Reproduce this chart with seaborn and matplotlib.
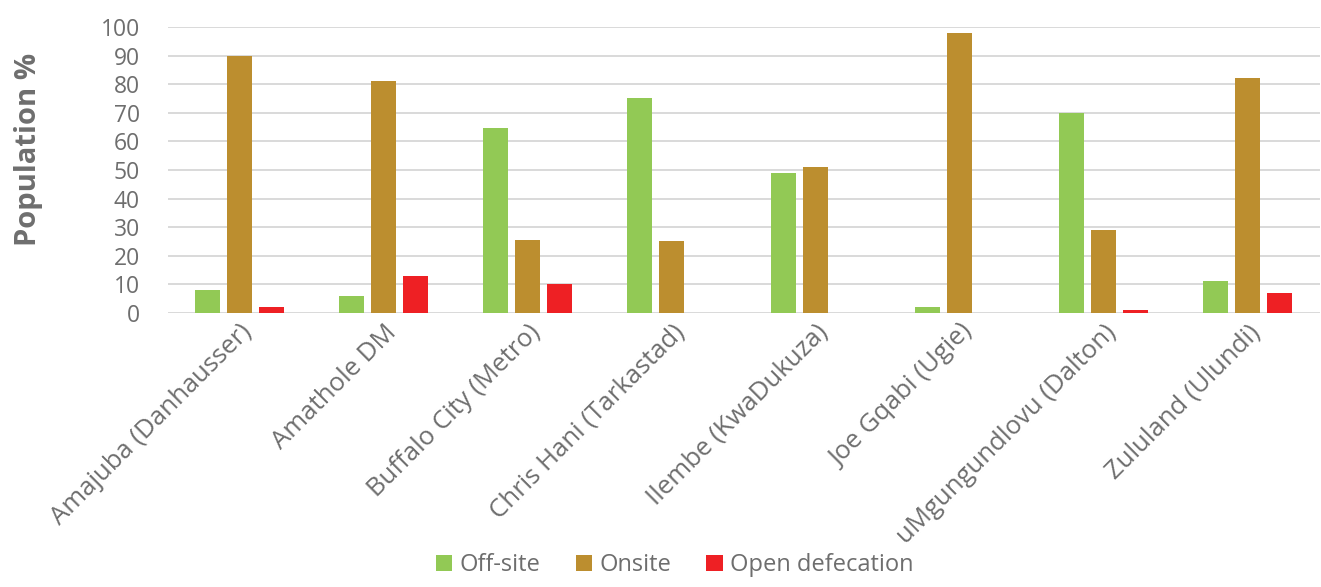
import pandas as pd
import numpy as np
import matplotlib.pyplot as plt
import seaborn as sns

# data
districts = ['Amajuba (Danhausser)', 'Amathole DM', 'Buffalo City (Metro)',
             'Chris Hani (Tarkastad)', 'Ilembe (KwaDukuza)', 'Joe Gqabi (Ugie)',
             'uMgungundlovu (Dalton)', 'Zululand (Ulundi)']
off_site = [8, 6, 64.5, 75, 49, 2, 70, 11]
onsite = [90, 81, 25.5, 25, 51, 98, 29, 82]
open_defecation = [2, 13, 10, 0, 0, 0, 1, 7]

series = ['Off-site', 'Onsite', 'Open defecation']
colours = ['#92C955', '#BC8E2F', '#EE2024']


def main():
    df = pd.DataFrame({'district': districts, 'Off-site': off_site,
                       'Onsite': onsite, 'Open defecation': open_defecation})
    df_long = df.melt(id_vars='district', var_name='tipo', value_name='pct')

    sns.set_style('white')
    plt.rcParams['font.family'] = ['Open Sans', 'DejaVu Sans']

    fig = plt.figure(figsize=(13.21, 5.87), dpi=100)
    ax = fig.add_axes([0.127, 0.467, 0.872, 0.487])

    sns.barplot(data=df_long, x='district', y='pct', hue='tipo', hue_order=series,
                palette=colours, saturation=1, width=0.667, gap=0.22, ax=ax,
                zorder=3, edgecolor='none')

    cinza = '#6E6E6E'
    ax.set_ylim(0, 100)
    ax.set_xlim(-0.5, len(districts) - 0.5)
    ax.set_yticks(range(0, 101, 10))
    ax.yaxis.grid(True, color='#D9D9D9', linewidth=1.4, zorder=0)
    ax.set_axisbelow(True)
    for s in ax.spines.values():
        s.set_visible(False)
    ax.tick_params(axis='y', length=0, labelsize=16.5, labelcolor=cinza, pad=20)
    ax.tick_params(axis='x', length=0, labelsize=18.5, labelcolor=cinza, pad=5)
    plt.setp(ax.get_xticklabels(), rotation=45, ha='right', rotation_mode='anchor')

    ax.set_xlabel('')
    ax.set_ylabel('Population %', fontsize=21, fontweight='bold', color=cinza)
    ax.yaxis.set_label_coords(-0.108, 0.57)

    ax.legend(loc='lower center', bbox_to_anchor=(0.44, -1.0), ncol=3, frameon=False,
              fontsize=17, labelcolor=cinza, handlelength=0.7, handleheight=0.7,
              handletextpad=0.3, columnspacing=1.5)

    plt.savefig('out.png', dpi=100)


if __name__ == '__main__':
    main()
